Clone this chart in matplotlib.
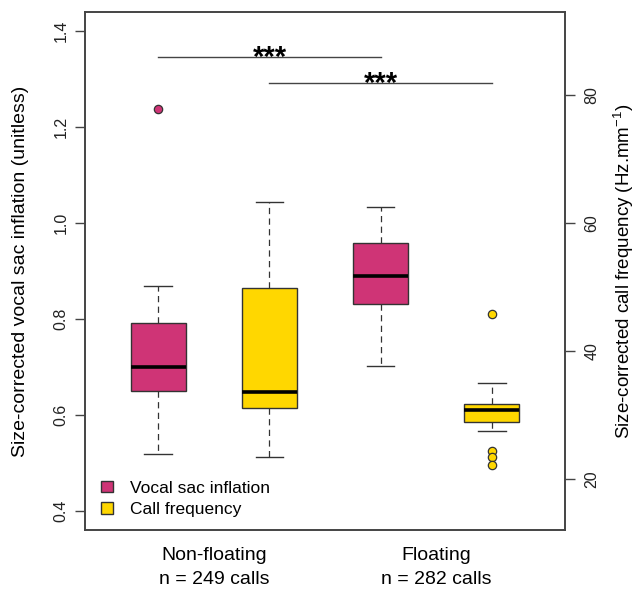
import matplotlib
matplotlib.use("Agg")
import matplotlib.pyplot as plt
from matplotlib.patches import Patch

plt.rcParams['font.family'] = ['Liberation Sans', 'DejaVu Sans']
plt.rcParams['mathtext.fontset'] = 'custom'
plt.rcParams['mathtext.rm'] = 'Liberation Sans'
plt.rcParams['mathtext.it'] = 'Liberation Sans:italic'

# data (box stats)
groups = ["Non-floating\nn = 249 calls", "Floating\nn = 282 calls"]
series = ["Vocal sac inflation", "Call frequency"]
colors = ["#CF3476", "#FFD700"]

# vocal sac inflation (left axis): whislo, q1, med, q3, whishi
infl_lo = [0.518, 0.702]
infl_q1 = [0.650, 0.832]
infl_med = [0.700, 0.890]
infl_q3 = [0.791, 0.959]
infl_hi = [0.869, 1.034]
infl_out = [[1.238], []]

# call frequency (right axis)
freq_lo = [23.46, 27.43]
freq_q1 = [31.13, 28.84]
freq_med = [33.53, 30.81]
freq_q3 = [49.89, 31.75]
freq_hi = [63.29, 35.03]
freq_out = [[], [45.78, 24.40, 23.36, 22.21]]

# significance bars (left axis units), box index pairs
sig_pairs = [(1, 3), (2, 4)]
sig_y = [1.347, 1.293]
sig_txt = ["***", "***"]

infl_pos = [1, 3]
freq_pos = [2, 4]

edge = "#333333"


def stats(lo, q1, med, q3, hi, out):
    return [dict(whislo=lo[i], q1=q1[i], med=med[i], q3=q3[i], whishi=hi[i],
                 fliers=out[i]) for i in range(len(lo))]


def draw(axis, st, pos, col):
    axis.bxp(st, positions=pos, widths=0.5, patch_artist=True, showcaps=True,
             boxprops=dict(facecolor=col, edgecolor=edge, linewidth=1.0),
             medianprops=dict(color="black", linewidth=2.6, solid_capstyle="butt"),
             whiskerprops=dict(color=edge, linewidth=0.9, linestyle=(0, (5, 3.5))),
             capprops=dict(color=edge, linewidth=1.0),
             capwidths=0.25,
             flierprops=dict(marker="o", markerfacecolor=col, markeredgecolor=edge,
                             markersize=6, markeredgewidth=0.9, linestyle="none"))


fig = plt.figure(figsize=(6.39, 5.89), dpi=100)
ax = fig.add_axes([85 / 639, 59 / 589, 480 / 639, 518 / 589])
ax2 = ax.twinx()

draw(ax, stats(infl_lo, infl_q1, infl_med, infl_q3, infl_hi, infl_out), infl_pos, colors[0])
draw(ax2, stats(freq_lo, freq_q1, freq_med, freq_q3, freq_hi, freq_out), freq_pos, colors[1])

ax.set_xlim(0.34, 4.66)
ax.set_ylim(0.36, 1.44)
ax2.set_ylim(12, 93)

ax.set_yticks([0.4, 0.6, 0.8, 1.0, 1.2, 1.4])
ax.set_yticklabels(["0.4", "0.6", "0.8", "1.0", "1.2", "1.4"], rotation=90, va="center")
ax2.set_yticks([20, 40, 60, 80])
ax2.set_yticklabels(["20", "40", "60", "80"], rotation=90, va="center")

ax.set_xticks([1.5, 3.5])
ax.set_xticklabels(groups, fontsize=14, linespacing=1.55)
ax.tick_params(axis="x", length=0, pad=12)
ax2.tick_params(axis="x", length=0)

for a in (ax, ax2):
    a.tick_params(axis="y", length=7, width=1, color="#444444", labelsize=11.5,
                  labelcolor="#222222", pad=5)
    for s in a.spines.values():
        s.set_color("#444444")
        s.set_linewidth(1.2)
ax2.tick_params(axis="y", pad=7)

ax.set_ylabel("Size-corrected vocal sac inflation (unitless)", fontsize=14)
ax2.set_ylabel(r"Size-corrected call frequency (Hz.mm$^{-1}$)", fontsize=13.5,
               rotation=90)
ax.yaxis.set_label_coords(-0.117, 0.5)
ax2.yaxis.set_label_coords(1.097, 0.5)

# significance bars
allpos = sorted(infl_pos + freq_pos)
for (a, b), y, t in zip(sig_pairs, sig_y, sig_txt):
    ax.plot([allpos[a - 1], allpos[b - 1]], [y, y], color="#444444", linewidth=1.0)
    ax.annotate(t, xy=((allpos[a - 1] + allpos[b - 1]) / 2, y), xytext=(0, -7),
                textcoords="offset points", ha="center", va="baseline",
                fontsize=21, fontweight="bold")

handles = [Patch(facecolor=c, edgecolor=edge, linewidth=1.0) for c in colors]
ax2.legend(handles, series, loc="lower left", bbox_to_anchor=(0.033, 0.025),
           frameon=False, fontsize=12.5, handlelength=0.72, handleheight=0.61,
           handletextpad=0.95, labelspacing=0.35, borderpad=0, borderaxespad=0)

fig.savefig("out.png", dpi=100)
